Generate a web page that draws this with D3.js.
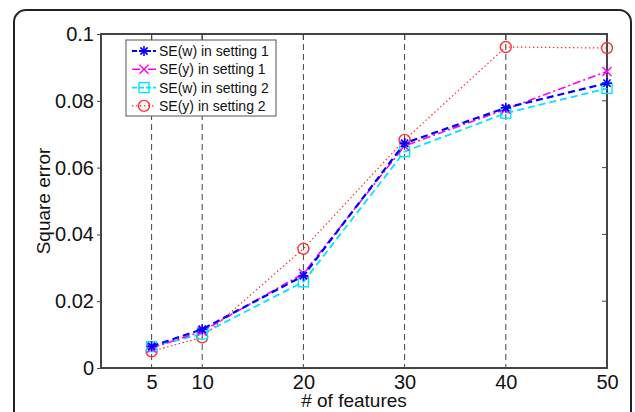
<!DOCTYPE html>
<html><head><meta charset="utf-8">
<script src="https://cdn.jsdelivr.net/npm/d3@7"></script>
<style>body{margin:0;background:#fff}svg{display:block}</style>
</head><body>
<svg id="c" width="635" height="412"></svg>
<script>
const features = [5, 10, 20, 30, 40, 50];
const seW1 = [0.0065, 0.0116, 0.0276, 0.0673, 0.0779, 0.0853];
const seY1 = [0.0060, 0.0110, 0.0283, 0.0665, 0.0775, 0.0888];
const seW2 = [0.0064, 0.0102, 0.0258, 0.0648, 0.0763, 0.0837];
const seY2 = [0.0050, 0.0092, 0.0357, 0.0683, 0.0961, 0.0958];
const xTicks = [5, 10, 20, 30, 40, 50];
const yTicks = [0, 0.02, 0.04, 0.06, 0.08, 0.1];
const yTickLabels = ["0", "0.02", "0.04", "0.06", "0.08", "0.1"];
const seriesNames = ["SE(w) in setting 1", "SE(y) in setting 1", "SE(w) in setting 2", "SE(y) in setting 2"];

const svg = d3.select("#c");
const L = 101, R = 607, T = 34, B = 368;
const x = d3.scaleLinear().domain([0, 50]).range([L, R]);
const y = d3.scaleLinear().domain([0, 0.1]).range([B, T]);
const font = "Arial, 'Liberation Sans', sans-serif";

// outer rounded frame
svg.append("rect").attr("x", 14).attr("y", 10).attr("width", 617).attr("height", 430)
  .attr("rx", 12).attr("fill", "none").attr("stroke", "#222").attr("stroke-width", 2);

// grid lines
svg.append("g").selectAll("line").data(xTicks.slice(0, 5)).join("line")
  .attr("x1", d => x(d)).attr("x2", d => x(d)).attr("y1", T).attr("y2", B)
  .attr("stroke", "#444").attr("stroke-width", 1).attr("stroke-dasharray", "6,4");

// axes box
const axisCol = "#444";
svg.append("rect").attr("x", L).attr("y", T).attr("width", R - L).attr("height", B - T)
  .attr("fill", "none").attr("stroke", axisCol).attr("stroke-width", 2);

// left axis
const yAxis = d3.axisLeft(y).tickValues(yTicks).tickSize(4).tickPadding(3)
  .tickFormat((d, i) => yTickLabels[i]);
const gy = svg.append("g").attr("transform", `translate(${L},0)`).call(yAxis);
gy.select(".domain").remove();
gy.selectAll("line").attr("stroke", axisCol);
gy.selectAll("text").attr("font-family", font).attr("font-size", 20).attr("fill", "#111");

// right ticks inward
svg.append("g").selectAll("line").data(yTicks.slice(1, 5)).join("line")
  .attr("x1", R - 5).attr("x2", R).attr("y1", d => y(d)).attr("y2", d => y(d))
  .attr("stroke", axisCol).attr("stroke-width", 1);
// top ticks inward
svg.append("g").selectAll("line").data(xTicks.slice(0, 5)).join("line")
  .attr("x1", d => x(d)).attr("x2", d => x(d)).attr("y1", T).attr("y2", T + 6)
  .attr("stroke", axisCol).attr("stroke-width", 1.2);

// bottom axis
const xAxis = d3.axisBottom(x).tickValues(xTicks).tickSize(0).tickPadding(7);
const gx = svg.append("g").attr("transform", `translate(0,${B})`).call(xAxis);
gx.select(".domain").remove();
gx.selectAll("text").attr("font-family", font).attr("font-size", 20).attr("fill", "#111");

// axis labels
svg.append("text").attr("x", 354).attr("y", 407).attr("text-anchor", "middle")
  .attr("font-family", font).attr("font-size", 19).attr("fill", "#111").text("# of features");
svg.append("text").attr("transform", `translate(50,${(T + B) / 2}) rotate(-90)`)
  .attr("text-anchor", "middle").attr("font-family", font).attr("font-size", 19)
  .attr("fill", "#111").text("Square error");

const series = [
  {vals: seW1, color: "#0000ff", dash: "7,4", width: 2.2, marker: "star"},
  {vals: seY1, color: "#ff00ff", dash: "8,3,2,3", width: 1.6, marker: "x"},
  {vals: seW2, color: "#00e5ff", dash: "7,4", width: 1.8, marker: "square"},
  {vals: seY2, color: "#ff3030", dash: "1.5,2.5", width: 1.2, marker: "circle"}
];

function drawMarker(g, type, cx, cy, color) {
  if (type === "star") {
    const s = 5;
    [[-s,0,s,0],[0,-s,0,s],[-s*0.72,-s*0.72,s*0.72,s*0.72],[-s*0.72,s*0.72,s*0.72,-s*0.72]].forEach(a =>
      g.append("line").attr("x1", cx+a[0]).attr("y1", cy+a[1]).attr("x2", cx+a[2]).attr("y2", cy+a[3])
        .attr("stroke", color).attr("stroke-width", 1.6));
  } else if (type === "x") {
    const s = 4.5;
    [[-s,-s,s,s],[-s,s,s,-s]].forEach(a =>
      g.append("line").attr("x1", cx+a[0]).attr("y1", cy+a[1]).attr("x2", cx+a[2]).attr("y2", cy+a[3])
        .attr("stroke", color).attr("stroke-width", 1.4));
  } else if (type === "square") {
    g.append("rect").attr("x", cx - 5).attr("y", cy - 5).attr("width", 10).attr("height", 10)
      .attr("fill", "none").attr("stroke", color).attr("stroke-width", 1.4);
  } else {
    g.append("circle").attr("cx", cx).attr("cy", cy).attr("r", 5.5)
      .attr("fill", "none").attr("stroke", color).attr("stroke-width", 1.4);
  }
}

const line = d3.line().x(d => x(d[0])).y(d => y(d[1]));
series.slice().reverse().forEach(s => {
  const pts = features.map((f, i) => [f, s.vals[i]]);
  const g = svg.append("g");
  g.append("path").attr("d", line(pts)).attr("fill", "none").attr("stroke", s.color)
    .attr("stroke-width", s.width).attr("stroke-dasharray", s.dash);
  pts.forEach(p => drawMarker(g, s.marker, x(p[0]), y(p[1]), s.color));
});

// legend
const lg = svg.append("g");
lg.append("rect").attr("x", 126).attr("y", 40).attr("width", 150).attr("height", 76)
  .attr("fill", "#fff").attr("stroke", "#555").attr("stroke-width", 1);
series.forEach((s, i) => {
  const cy = 51 + i * 18.3;
  lg.append("line").attr("x1", 132).attr("x2", 156).attr("y1", cy).attr("y2", cy)
    .attr("stroke", s.color).attr("stroke-width", s.width > 1.8 ? 1.8 : s.width).attr("stroke-dasharray", s.dash === "7,4" ? "5,2" : s.dash);
  drawMarker(lg, s.marker, 144, cy, s.color);
  lg.append("text").attr("x", 159).attr("y", cy + 5).attr("font-family", font).attr("font-size", 14)
    .attr("fill", "#111").text(seriesNames[i]);
});
</script>
</body></html>
